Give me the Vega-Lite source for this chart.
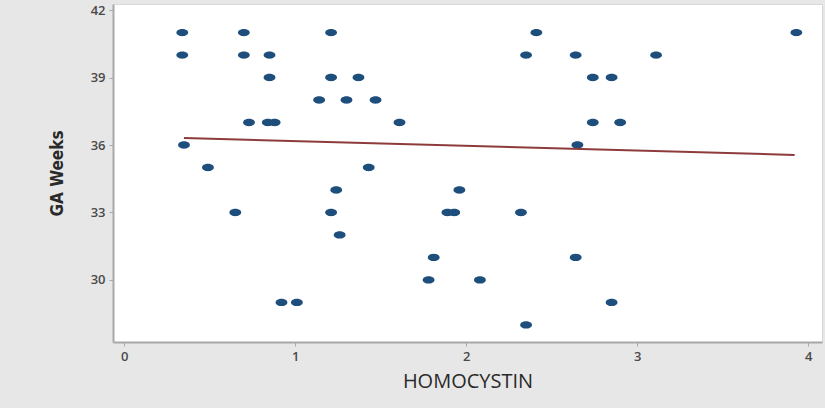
{
  "$schema": "https://vega.github.io/schema/vega-lite/v6.json",
  "width": 709,
  "height": 338,
  "autosize": {"type": "none"},
  "padding": {"left": 113, "top": 4, "right": 3, "bottom": 66},
  "background": "#E7E7E7",
  "config": {
    "view": {"fill": "white", "stroke": "#D8D8D8", "strokeWidth": 1},
    "axis": {
      "grid": false,
      "domainColor": "#A8A8A8",
      "domainWidth": 2,
      "tickColor": "#A8A8A8",
      "tickSize": 4,
      "labelColor": "#4A4A4A",
      "labelFont": "Open Sans",
      "labelFontWeight": 600,
      "labelFontSize": 13,
      "titleColor": "#2A2A2A",
      "titleFontWeight": "normal"
    }
  },
  "layer": [
    {
      "data": {"values": [
        {"h": 0.34, "ga": 41}, {"h": 0.70, "ga": 41}, {"h": 1.21, "ga": 41}, {"h": 2.41, "ga": 41}, {"h": 3.93, "ga": 41},
        {"h": 0.34, "ga": 40}, {"h": 0.70, "ga": 40}, {"h": 0.85, "ga": 40}, {"h": 2.35, "ga": 40}, {"h": 2.64, "ga": 40}, {"h": 3.11, "ga": 40},
        {"h": 0.85, "ga": 39}, {"h": 1.21, "ga": 39}, {"h": 1.37, "ga": 39}, {"h": 2.74, "ga": 39}, {"h": 2.85, "ga": 39},
        {"h": 1.14, "ga": 38}, {"h": 1.30, "ga": 38}, {"h": 1.47, "ga": 38},
        {"h": 0.73, "ga": 37}, {"h": 0.84, "ga": 37}, {"h": 0.88, "ga": 37}, {"h": 1.61, "ga": 37}, {"h": 2.74, "ga": 37}, {"h": 2.90, "ga": 37},
        {"h": 0.35, "ga": 36}, {"h": 2.65, "ga": 36},
        {"h": 0.49, "ga": 35}, {"h": 1.43, "ga": 35},
        {"h": 1.24, "ga": 34}, {"h": 1.96, "ga": 34},
        {"h": 0.65, "ga": 33}, {"h": 1.21, "ga": 33}, {"h": 1.89, "ga": 33}, {"h": 1.93, "ga": 33}, {"h": 2.32, "ga": 33},
        {"h": 1.26, "ga": 32},
        {"h": 1.81, "ga": 31}, {"h": 2.64, "ga": 31},
        {"h": 1.78, "ga": 30}, {"h": 2.08, "ga": 30},
        {"h": 0.92, "ga": 29}, {"h": 1.01, "ga": 29}, {"h": 2.85, "ga": 29},
        {"h": 2.35, "ga": 28}
      ]},
      "mark": {
        "type": "point",
        "filled": true,
        "opacity": 1,
        "color": "#1D4E7C",
        "size": 140,
        "shape": "M-1,0 A1,0.62 0 1,0 1,0 A1,0.62 0 1,0 -1,0 Z"
      },
      "encoding": {
        "x": {
          "field": "h", "type": "quantitative",
          "scale": {"domain": [-0.065, 4.08], "nice": false, "zero": false},
          "axis": {"values": [0, 1, 2, 3, 4], "format": "d", "title": "HOMOCYSTIN", "titleFont": "Open Sans", "titleFontSize": 20, "titlePadding": 8, "labelPadding": 4}
        },
        "y": {
          "field": "ga", "type": "quantitative",
          "scale": {"domain": [27.24, 42.27], "nice": false, "zero": false},
          "axis": {"values": [30, 33, 36, 39, 42], "title": "GA Weeks", "titleFont": "Arial Narrow, Liberation Sans Narrow, DejaVu Sans Condensed", "titleFontWeight": 600, "titleFontSize": 17, "titlePadding": 24, "labelPadding": 4}
        }
      }
    },
    {
      "data": {"values": [
        {"h": 0.35, "ga": 36.31},
        {"h": 3.92, "ga": 35.56}
      ]},
      "mark": {"type": "line", "color": "#8E3B3B", "strokeWidth": 2},
      "encoding": {
        "x": {"field": "h", "type": "quantitative"},
        "y": {"field": "ga", "type": "quantitative"}
      }
    }
  ]
}
